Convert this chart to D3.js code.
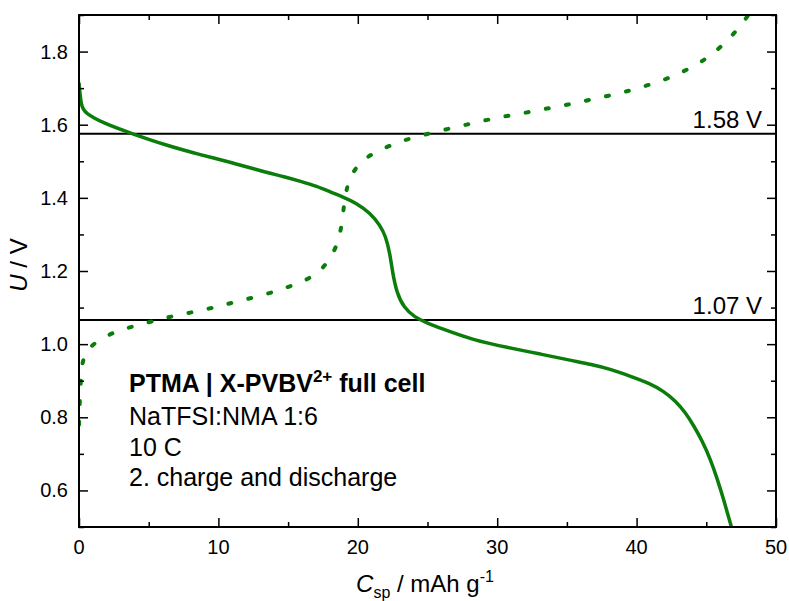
<!DOCTYPE html>
<html><head><meta charset="utf-8">
<script src="https://cdn.jsdelivr.net/npm/d3@7"></script>
<style>body{margin:0;background:#fff}svg{display:block}text{font-family:"Liberation Sans",Arial,sans-serif}</style>
</head><body>
<script>
// Discharge curve (solid): capacity mAh/g, voltage V
const dischargeCap = [0, 0.15, 0.43, 1.75, 3.7, 6.3, 8.7, 11.1, 13.5, 14.7, 15.9, 17.05, 18.1, 18.9, 19.9, 20.9, 21.6, 22.0, 22.3, 22.5, 22.8, 23.3, 24.1, 24.9, 25.9, 28.3, 30.7, 33.1, 35.5, 36.7, 38.1, 39.5, 41.0, 41.9, 42.8, 43.5, 44.1, 44.7, 45.3, 45.8, 46.2, 46.8];
const dischargeU   = [1.715, 1.65, 1.632, 1.604, 1.577, 1.543, 1.518, 1.495, 1.469, 1.458, 1.445, 1.432, 1.415, 1.403, 1.386, 1.358, 1.325, 1.295, 1.249, 1.194, 1.14, 1.10, 1.073, 1.059, 1.044, 1.011, 0.991, 0.973, 0.954, 0.945, 0.932, 0.913, 0.892, 0.872, 0.845, 0.813, 0.777, 0.736, 0.685, 0.63, 0.581, 0.50];
// Charge curve (dotted)
const chargeCap = [0, 0.05, 0.12, 0.2, 0.6, 2.0, 3.4, 4.9, 6.3, 7.7, 9.2, 10.6, 12.0, 13.5, 14.9, 16.2, 17.4, 18.4, 18.8, 18.97, 19.15, 19.6, 20.6, 22.1, 23.4, 24.9, 26.4, 27.8, 29.2, 30.7, 32.2, 33.7, 35.1, 36.5, 38.0, 39.5, 40.9, 42.3, 43.6, 44.9, 46.0, 47.1, 48.0];
const chargeU   = [0.78, 0.84, 0.89, 0.95, 0.99, 1.025, 1.044, 1.059, 1.073, 1.084, 1.096, 1.109, 1.123, 1.137, 1.155, 1.173, 1.2, 1.256, 1.311, 1.367, 1.422, 1.472, 1.513, 1.54, 1.559, 1.574, 1.588, 1.6, 1.613, 1.624, 1.634, 1.645, 1.655, 1.667, 1.679, 1.693, 1.709, 1.727, 1.75, 1.777, 1.811, 1.853, 1.899];
const refLevels = [1.575, 1.066];
const refLabels = ["1.58 V", "1.07 V"];
const xTicks = [0, 10, 20, 30, 40, 50];
const yTicks = [0.6, 0.8, 1.0, 1.2, 1.4, 1.6, 1.8];
const noteLines = ["NaTFSI:NMA 1:6", "10 C", "2. charge and discharge"];

const W = 789, H = 601;
const m = {l: 79, r: 13, t: 15, b: 74};
const green = "#0b7d0b";
const svg = d3.select("body").append("svg").attr("width", W).attr("height", H);
const x = d3.scaleLinear().domain([0, 50]).range([m.l, W - m.r]);
const y = d3.scaleLinear().domain([0.5, 1.9]).range([H - m.b, m.t]);

svg.append("clipPath").attr("id", "c").append("rect")
  .attr("x", m.l).attr("y", m.t).attr("width", x(50) - m.l).attr("height", y(0.5) - m.t);

const line = d3.line().x(d => x(d[0])).y(d => y(d[1])).curve(d3.curveBasis);

const g = svg.append("g").attr("clip-path", "url(#c)");
refLevels.forEach(v => {
  g.append("line").attr("x1", x(0)).attr("x2", x(50)).attr("y1", y(v)).attr("y2", y(v))
    .attr("stroke", "#000").attr("stroke-width", 2);
});
g.append("path").datum(chargeCap.map((c, i) => [c, chargeU[i]]))
  .attr("d", line).attr("fill", "none").attr("stroke", green).attr("stroke-width", 4)
  .attr("stroke-dasharray", "3,17.5").attr("stroke-linecap", "round");
g.append("path").datum(dischargeCap.map((c, i) => [c, dischargeU[i]]))
  .attr("d", line).attr("fill", "none").attr("stroke", green).attr("stroke-width", 3.5);

// axes with inward ticks
const tickSty = sel => { sel.select(".domain").remove(); sel.selectAll("line").attr("stroke", "#000").attr("stroke-width", 1.5); };
const xMinor = d3.range(5, 50, 10);
const yMinor = d3.range(0.5, 1.95, 0.2).map(v => +v.toFixed(2));
svg.append("g").attr("transform", `translate(0,${y(0.5)})`)
  .call(d3.axisTop(x).tickValues(xTicks).tickSize(9).tickFormat("")).call(tickSty);
svg.append("g").attr("transform", `translate(0,${y(0.5)})`)
  .call(d3.axisTop(x).tickValues(xMinor).tickSize(5).tickFormat("")).call(tickSty);
svg.append("g").attr("transform", `translate(0,${y(1.9)})`)
  .call(d3.axisBottom(x).tickValues(xTicks).tickSize(9).tickFormat("")).call(tickSty);
svg.append("g").attr("transform", `translate(0,${y(1.9)})`)
  .call(d3.axisBottom(x).tickValues(xMinor).tickSize(5).tickFormat("")).call(tickSty);
svg.append("g").attr("transform", `translate(${x(0)},0)`)
  .call(d3.axisRight(y).tickValues(yTicks).tickSize(9).tickFormat("")).call(tickSty);
svg.append("g").attr("transform", `translate(${x(0)},0)`)
  .call(d3.axisRight(y).tickValues(yMinor).tickSize(5).tickFormat("")).call(tickSty);
svg.append("g").attr("transform", `translate(${x(50)},0)`)
  .call(d3.axisLeft(y).tickValues(yTicks).tickSize(9).tickFormat("")).call(tickSty);
svg.append("g").attr("transform", `translate(${x(50)},0)`)
  .call(d3.axisLeft(y).tickValues(yMinor).tickSize(5).tickFormat("")).call(tickSty);

// frame
svg.append("rect").attr("x", x(0)).attr("y", y(1.9)).attr("width", x(50) - x(0)).attr("height", y(0.5) - y(1.9))
  .attr("fill", "none").attr("stroke", "#000").attr("stroke-width", 2);

// tick labels
svg.append("g").selectAll("text").data(xTicks).join("text")
  .attr("x", d => x(d)).attr("y", y(0.5) + 27).attr("text-anchor", "middle")
  .attr("font-size", 20).text(d => d);
svg.append("g").selectAll("text").data(yTicks).join("text")
  .attr("x", x(0) - 11).attr("y", d => y(d) + 7).attr("text-anchor", "end")
  .attr("font-size", 20).text(d => d.toFixed(1));

// ref labels
refLevels.forEach((v, i) => {
  svg.append("text").attr("x", x(50) - 14).attr("y", y(v) - 6).attr("text-anchor", "end")
    .attr("font-size", 24).text(refLabels[i]);
});

// axis titles
const xt = svg.append("text").attr("x", 425).attr("y", 592).attr("text-anchor", "middle").attr("font-size", 24);
xt.append("tspan").attr("font-style", "italic").text("C");
xt.append("tspan").attr("font-size", 16).attr("dy", 6).text("sp");
xt.append("tspan").attr("dy", -6).text(" / mAh g");
xt.append("tspan").attr("font-size", 16).attr("dy", -10).text("-1");
const yt = svg.append("text").attr("transform", `translate(27,265) rotate(-90)`).attr("text-anchor", "middle").attr("font-size", 24);
yt.append("tspan").attr("font-style", "italic").text("U");
yt.append("tspan").text(" / V");

// annotation
const t0 = svg.append("text").attr("x", 129).attr("y", 392).attr("font-size", 25).attr("font-weight", "bold");
t0.append("tspan").text("PTMA | X-PVBV");
t0.append("tspan").attr("font-size", 17).attr("dy", -10).text("2+");
t0.append("tspan").attr("dy", 10).text(" full cell");
svg.append("g").selectAll("text").data(noteLines).join("text")
  .attr("x", 129).attr("y", (d, i) => 425 + i * 30.5).attr("font-size", 25).text(d => d);
</script>
</body></html>
